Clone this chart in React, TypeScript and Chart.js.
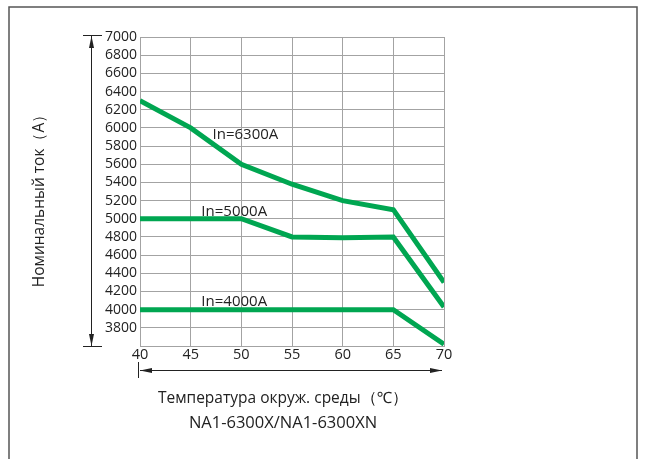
import React, { useEffect, useRef } from "react";
import { Chart, registerables } from "chart.js";

Chart.register(...registerables);

const temperatures = [40, 45, 50, 55, 60, 65, 70];
const in6300 = [6300, 6000, 5600, 5380, 5200, 5100, 4300];
const in5000 = [5000, 5000, 5000, 4800, 4790, 4800, 4030];
const in4000 = [4000, 4000, 4000, 4000, 4000, 4000, 3620];
const seriesLabels = ["In=6300A", "In=5000A", "In=4000A"];
const labelX = [50.4, 49.3, 49.3];
const labelY = [5930, 5080, 4090];
const yTitle = "Номинальный ток（A）";
const xTitle = "Температура окруж. среды（℃）";
const modelTitle = "NA1-6300X/NA1-6300XN";

const FONT = "'Open Sans', 'Noto Sans', sans-serif";
const GREEN = "#00a651";

function arrowHead(ctx: CanvasRenderingContext2D, x: number, y: number, dx: number, dy: number) {
  const len = 12;
  const half = 2.5;
  const px = -dy, py = dx;
  ctx.beginPath();
  ctx.moveTo(x, y);
  ctx.lineTo(x - dx * len + px * half, y - dy * len + py * half);
  ctx.lineTo(x - dx * len - px * half, y - dy * len - py * half);
  ctx.closePath();
  ctx.fill();
}

const decor = {
  id: "decor",
  afterDraw(chart: any) {
    const ctx = chart.ctx as CanvasRenderingContext2D;
    const { left, right, top, bottom } = chart.chartArea;
    const xs = chart.scales.x;
    const ys = chart.scales.y;
    ctx.save();
    // frame
    ctx.strokeStyle = "#555";
    ctx.lineWidth = 1.5;
    ctx.beginPath();
    ctx.moveTo(9, 470);
    ctx.lineTo(9, 7);
    ctx.lineTo(637, 7);
    ctx.lineTo(637, 470);
    ctx.stroke();

    // series labels
    ctx.fillStyle = "#222";
    ctx.font = `15px ${FONT}`;
    ctx.textAlign = "center";
    ctx.textBaseline = "middle";
    seriesLabels.forEach((t, i) => {
      ctx.fillText(t, xs.getPixelForValue(labelX[i]), ys.getPixelForValue(labelY[i]));
    });

    // vertical dimension arrow
    ctx.strokeStyle = "#222";
    ctx.fillStyle = "#222";
    ctx.lineWidth = 1;
    const vx = 91;
    ctx.beginPath();
    ctx.moveTo(83, top - 1.5);
    ctx.lineTo(102, top - 1.5);
    ctx.moveTo(83, bottom + 0.5);
    ctx.lineTo(102, bottom + 0.5);
    ctx.moveTo(vx + 0.5, top - 1);
    ctx.lineTo(vx + 0.5, bottom);
    ctx.stroke();
    arrowHead(ctx, vx + 0.5, top - 1, 0, -1);
    arrowHead(ctx, vx + 0.5, bottom, 0, 1);

    // horizontal dimension arrow
    const hy = 370.5;
    ctx.beginPath();
    ctx.moveTo(left - 1.5, 362);
    ctx.lineTo(left - 1.5, 378);
    ctx.moveTo(left, hy);
    ctx.lineTo(right - 2, hy);
    ctx.stroke();
    arrowHead(ctx, left, hy, -1, 0);
    arrowHead(ctx, right - 2, hy, 1, 0);

    // titles
    ctx.fillStyle = "#222";
    ctx.textAlign = "center";
    ctx.textBaseline = "middle";
    ctx.font = `15.5px ${FONT}`;
    ctx.fillText(xTitle, 283, 399);
    ctx.font = `16.5px ${FONT}`;
    ctx.fillText(modelTitle, 283, 423);
    ctx.translate(40, 197);
    ctx.rotate(-Math.PI / 2);
    ctx.font = `15.5px ${FONT}`;
    ctx.fillText(yTitle, 0, 0);
    ctx.restore();
  },
};

export default function App() {
  const ref = useRef<HTMLCanvasElement | null>(null);
  useEffect(() => {
    if (!ref.current) return;
    const mk = (data: number[]) => ({
      data: temperatures.map((t, i) => ({ x: t, y: data[i] })),
      borderColor: GREEN,
      backgroundColor: GREEN,
      borderWidth: 5,
      pointRadius: 0,
      tension: 0,
      borderJoinStyle: "miter" as const,
      borderCapStyle: "butt" as const,
      fill: false,
    });
    const chart = new Chart(ref.current, {
      type: "line",
      data: {
        datasets: [mk(in6300), mk(in5000), mk(in4000)],
      },
      options: {
        animation: false,
        responsive: false,
        maintainAspectRatio: false,
        layout: { padding: { left: 0, right: 202, top: 37, bottom: 0 } },
        plugins: { legend: { display: false }, tooltip: { enabled: false } },
        scales: {
          x: {
            type: "linear",
            min: 40,
            max: 70,
            afterFit: (s: any) => {
              s.height = 113;
            },
            ticks: {
              stepSize: 5,
              padding: 0,
              autoSkip: false,
              maxRotation: 0,
              color: "#222",
              font: { family: FONT, size: 14.5 },
            },
            grid: { color: "#a3a3a3", lineWidth: 1, drawTicks: false },
            border: { color: "#a3a3a3" },
          },
          y: {
            type: "linear",
            min: 3600,
            max: 7000,
            afterFit: (s: any) => {
              s.width = 140;
            },
            ticks: {
              stepSize: 200,
              padding: 3,
              autoSkip: false,
              color: "#222",
              font: { family: FONT, size: 14 },
              callback: (v: any) => (v === 3600 ? "" : String(v)),
            },
            grid: { color: "#a3a3a3", lineWidth: 1, drawTicks: false },
            border: { color: "#a3a3a3" },
          },
        },
      },
      plugins: [decor],
    });
    return () => chart.destroy();
  }, []);
  return (
    <div style={{ position: "fixed", left: 0, top: 0, width: 646, height: 459, background: "#fff" }}>
      <canvas ref={ref} width={646} height={459} style={{ display: "block" }} />
    </div>
  );
}
